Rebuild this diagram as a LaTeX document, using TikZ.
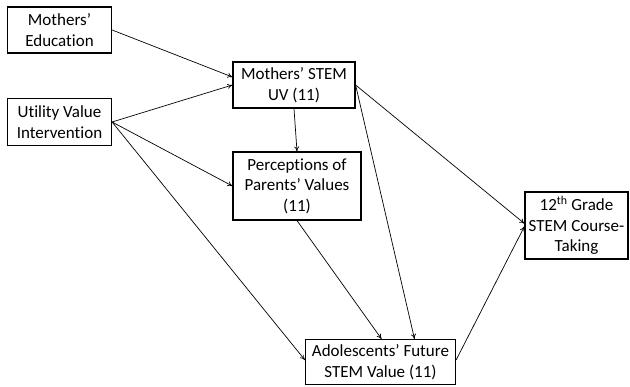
\documentclass[tikz,border=0pt]{standalone}
\usepackage{fontspec}
\setmainfont{Carlito}[RawFeature={-liga}]
\usetikzlibrary{arrows.meta}
\begin{document}
\begin{tikzpicture}[x=1pt,y=-1pt,
  box/.style={draw,line width=1.2pt,align=center,inner sep=0pt,font=\fontsize{17}{20.5}\selectfont},
  arr/.style={-{To[length=5pt,width=5pt]},line width=0.7pt}]
\useasboundingbox (0,0) rectangle (630,387);
\node[box,minimum width=104pt,minimum height=46pt] (me) at (59.5,30) {Mothers'\\Education};
\node[box,minimum width=104pt,minimum height=47pt] (uvi) at (59.5,122) {Utility Value\\Intervention};
\node[box,minimum width=122pt,minimum height=46pt] (ms) at (294,85) {Mothers' STEM\\UV (11)};
\node[box,minimum width=128pt,minimum height=68pt] (pp) at (297,186) {Perceptions of\\Parents' Values\\(11)};
\node[box,minimum width=103pt,minimum height=67pt] (tw) at (576.5,225.5) {12\textsuperscript{th} Grade\\STEM Course-\\Taking};
\node[box,minimum width=150pt,minimum height=45pt] (ad) at (380.5,362) {Adolescents' Future\\STEM Value (11)};
\draw[arr] ([yshift=0pt]me.east) -- ([yshift=8pt]ms.west);
\draw[arr] (uvi.east) -- (ms.west);
\draw[arr] (uvi.east) -- (pp.west);
\draw[arr] (uvi.east) -- ([yshift=2pt]ad.west);
\draw[arr] (ms.south) -- (pp.north);
\draw[arr] (ms.east) -- ([yshift=2pt]tw.west);
\draw[arr] (ms.east) -- ([xshift=34pt]ad.north);
\draw[arr] (pp.south) -- ([xshift=1pt]ad.north);
\draw[arr] ([yshift=2pt]ad.east) -- ([yshift=-1pt]tw.west);
\end{tikzpicture}
\end{document}
